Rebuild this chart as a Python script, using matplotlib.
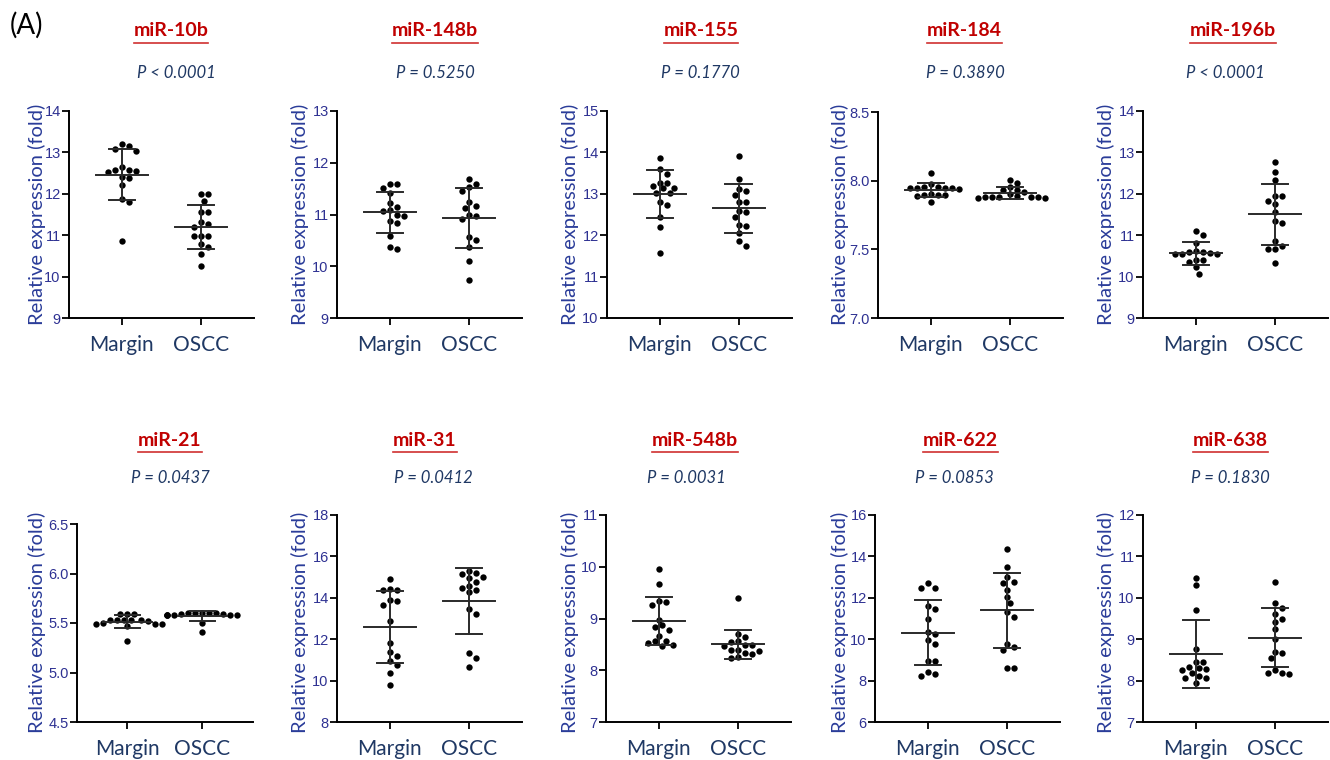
import numpy as np
import matplotlib
matplotlib.use('Agg')
import matplotlib.pyplot as plt
from matplotlib.lines import Line2D

plt.rcParams['font.family'] = ['Lato', 'DejaVu Sans']

# values, one list per group
margin_10b = [13.20, 13.08, 13.04, 13.16, 12.65, 12.55, 12.57, 12.57, 12.52, 12.41, 12.39, 12.21, 11.87, 11.79, 10.85]
oscc_10b = [11.99, 11.99, 11.83, 11.57, 11.57, 11.31, 11.26, 11.21, 10.99, 10.99, 10.99, 10.79, 10.71, 10.54, 10.25]
margin_148b = [11.58, 11.52, 11.58, 11.41, 11.23, 11.15, 11.07, 11.09, 10.98, 10.99, 10.84, 10.87, 10.59, 10.34, 10.38]
oscc_148b = [11.68, 11.58, 11.54, 11.46, 11.25, 11.16, 11.13, 10.99, 10.98, 10.91, 10.57, 10.50, 10.38, 10.10, 9.73]
margin_155 = [13.87, 13.61, 13.49, 13.27, 13.27, 13.19, 13.13, 13.15, 13.01, 13.03, 12.81, 12.74, 12.45, 12.20, 11.56]
oscc_155 = [13.91, 13.35, 13.11, 13.07, 12.97, 12.81, 12.81, 12.55, 12.59, 12.45, 12.23, 12.25, 12.06, 11.85, 11.75]
margin_184 = [8.054, 7.976, 7.955, 7.952, 7.950, 7.948, 7.945, 7.943, 7.940, 7.900, 7.898, 7.895, 7.893, 7.890, 7.846]
oscc_184 = [8.005, 7.985, 7.955, 7.935, 7.930, 7.920, 7.900, 7.885, 7.883, 7.882, 7.880, 7.880, 7.878, 7.877, 7.875]
margin_196b = [11.01, 11.11, 10.81, 10.59, 10.55, 10.55, 10.54, 10.57, 10.59, 10.62, 10.39, 10.36, 10.41, 10.23, 10.07]
oscc_196b = [12.77, 12.53, 12.33, 11.95, 11.95, 11.83, 11.75, 11.55, 11.35, 11.30, 10.87, 10.67, 10.66, 10.74, 10.34]
margin_21 = [5.59, 5.59, 5.59, 5.535, 5.532, 5.530, 5.528, 5.526, 5.524, 5.495, 5.492, 5.490, 5.487, 5.47, 5.32]
oscc_21 = [5.600, 5.600, 5.598, 5.597, 5.596, 5.595, 5.595, 5.585, 5.584, 5.583, 5.582, 5.581, 5.580, 5.50, 5.41]
margin_31 = [14.92, 14.38, 14.38, 14.42, 13.89, 13.86, 13.65, 12.90, 11.83, 11.40, 11.20, 10.95, 10.75, 10.35, 9.80]
oscc_31 = [15.18, 15.15, 15.29, 14.99, 14.94, 14.75, 14.59, 14.49, 14.38, 14.26, 13.44, 13.22, 11.32, 11.08, 10.67]
margin_548b = [9.96, 9.66, 9.34, 9.31, 9.27, 8.98, 8.83, 8.77, 8.87, 8.67, 8.57, 8.52, 8.56, 8.46, 8.48]
oscc_548b = [9.40, 8.70, 8.65, 8.56, 8.48, 8.46, 8.48, 8.54, 8.40, 8.38, 8.40, 8.32, 8.34, 8.23, 8.26]
margin_622 = [12.73, 12.46, 12.46, 11.60, 11.44, 10.96, 10.33, 10.27, 9.77, 9.96, 8.96, 8.95, 8.40, 8.22, 8.30]
oscc_622 = [14.36, 13.47, 13.02, 12.73, 12.78, 12.38, 12.02, 11.73, 11.33, 11.09, 9.61, 9.77, 9.48, 8.59, 8.62]
margin_638 = [10.49, 10.31, 9.71, 8.76, 8.46, 8.46, 8.30, 8.26, 8.27, 8.34, 8.19, 8.07, 8.07, 8.10, 7.95]
oscc_638 = [10.39, 9.88, 9.76, 9.60, 9.48, 9.41, 9.24, 9.00, 8.66, 8.70, 8.54, 8.19, 8.15, 8.18, 8.26]

names = ['miR-10b', 'miR-148b', 'miR-155', 'miR-184', 'miR-196b',
         'miR-21', 'miR-31', 'miR-548b', 'miR-622', 'miR-638']
pvals = ['P < 0.0001', 'P = 0.5250', 'P = 0.1770', 'P = 0.3890', 'P < 0.0001',
         'P = 0.0437', 'P = 0.0412', 'P = 0.0031', 'P = 0.0853', 'P = 0.1830']
margins = [margin_10b, margin_148b, margin_155, margin_184, margin_196b,
           margin_21, margin_31, margin_548b, margin_622, margin_638]
osccs = [oscc_10b, oscc_148b, oscc_155, oscc_184, oscc_196b,
         oscc_21, oscc_31, oscc_548b, oscc_622, oscc_638]
yticks = [[9, 10, 11, 12, 13, 14], [9, 10, 11, 12, 13], [10, 11, 12, 13, 14, 15],
          [7.0, 7.5, 8.0, 8.5], [9, 10, 11, 12, 13, 14],
          [4.5, 5.0, 5.5, 6.0, 6.5], [8, 10, 12, 14, 16, 18], [7, 8, 9, 10, 11],
          [6, 8, 10, 12, 14, 16], [7, 8, 9, 10, 11, 12]]
groups = ['Margin', 'OSCC']

W, H = 1330, 760
# pixel layout: left spine, bottom, top, tick spacing
boxes = [(69, 318, 111, 79), (337, 318, 111, 79), (607, 318, 111, 79), (878, 318, 112, 79), (1143, 318, 111, 79),
         (77, 722, 524, 75), (337, 722, 515, 79), (606, 722, 515, 79), (875, 722, 515, 79), (1143, 722, 515, 79)]
title_x = [171, 435, 701, 964, 1233, 170, 425, 695, 960, 1230]
p_x = [176, 435, 700, 965, 1225, 170, 433, 686, 954, 1230]
ylab_x = [37, 300, 570, 840, 1106, 37, 300, 570, 840, 1106]

red = '#C00000'
navy = '#1F3864'
tickblue = '#2E3192'

fig = plt.figure(figsize=(W / 100, H / 100), dpi=100)


def swarm(ax, x0, vals, d=7.0):
    vals = np.asarray(vals, dtype=float)
    pts = ax.transData.transform(np.column_stack([np.full(len(vals), x0), vals]))
    x0px = pts[0, 0]
    placed = []
    xs = np.zeros(len(vals))
    for i in np.argsort(-vals):
        yp = pts[i, 1]
        for k in [0, 1, -1, 2, -2, 3, -3, 4, -4, 5, -5, 6, -6, 7, -7, 8, -8, 9, -9, 10, -10]:
            xp = x0px + k * d / 2
            if all((xp - a) ** 2 + (yp - b) ** 2 >= (0.95 * d) ** 2 for a, b in placed):
                break
        placed.append((xp, yp))
        xs[i] = xp
    return ax.transData.inverted().transform(np.column_stack([xs, pts[:, 1]]))[:, 0]


titles = []
for i in range(10):
    left, bot, top, sp = boxes[i]
    off = 0.67
    width = sp * (1 + 2 * off)
    ax = fig.add_axes([left / W, (H - bot) / H, width / W, (bot - top) / H])
    ax.set_xlim(-off, 1 + off)
    yt = yticks[i]
    ax.set_ylim(yt[0], yt[-1])
    ax.set_yticks(yt)
    if isinstance(yt[0], float):
        ax.set_yticklabels(['%.1f' % v for v in yt])
    ax.set_xticks([0, 1])
    ax.set_xticklabels(groups)
    for s in ['top', 'right']:
        ax.spines[s].set_visible(False)
    for s in ['left', 'bottom']:
        ax.spines[s].set_linewidth(1.4)
    ax.spines['left'].set_zorder(5)
    ax.tick_params(axis='y', length=5, width=1.3, labelsize=10.5, labelcolor=tickblue, pad=1)
    ax.tick_params(axis='x', length=5, width=1.3, labelsize=15, labelcolor=navy, pad=7)
    for lab in ax.get_yticklabels():
        lab.set_family(['Liberation Sans', 'DejaVu Sans'])
    ax.patch.set_visible(False)

    for g, data in enumerate([margins[i], osccs[i]]):
        m = np.mean(data)
        sd = np.std(data, ddof=1)
        xs = swarm(ax, g, data)
        ax.scatter(xs, data, s=21, color='black', zorder=3, linewidths=0)
        ax.plot([g - 0.33, g + 0.33], [m, m], color='#2a2a2a', lw=1.4, zorder=4)
        ax.plot([g, g], [m - sd, m + sd], color='#2a2a2a', lw=1.4, zorder=4)
        ax.plot([g - 0.17, g + 0.17], [m + sd, m + sd], color='#2a2a2a', lw=1.4, zorder=4)
        ax.plot([g - 0.17, g + 0.17], [m - sd, m - sd], color='#2a2a2a', lw=1.4, zorder=4)

    ty = 30 if i < 5 else 440
    py = 73 if i < 5 else 478
    ly = 214 if i < 5 else 622
    t = fig.text(title_x[i] / W, 1 - ty / H, names[i], color=red, fontsize=14,
                 fontweight='bold', ha='center', va='center')
    titles.append((t, (43 if i < 5 else 452)))
    fig.text(p_x[i] / W, 1 - py / H, pvals[i], color=navy, fontsize=12,
             style='italic', ha='center', va='center')
    fig.text(ylab_x[i] / W, 1 - ly / H, 'Relative expression (fold)', color='#2A3C99',
             fontsize=14.5, rotation=90, ha='center', va='center')

fig.text(10 / W, 1 - 25 / H, '(A)', fontsize=20, color='black', ha='left', va='center')

fig.canvas.draw()
r = fig.canvas.get_renderer()
for t, uy in titles:
    bb = t.get_window_extent(renderer=r)
    fig.add_artist(Line2D([bb.x0 / W, bb.x1 / W], [1 - uy / H, 1 - uy / H],
                          color='#D03030', lw=1.2, transform=fig.transFigure))

fig.savefig('out.png', dpi=100)
